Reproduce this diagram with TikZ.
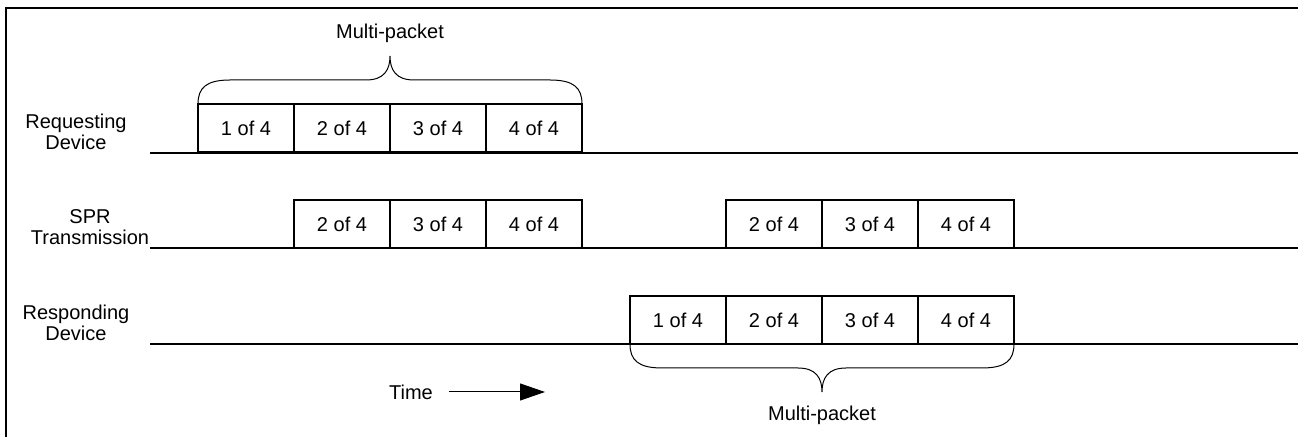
\documentclass[tikz,border=0pt]{standalone}
\usepackage{fontspec}
\setmainfont{Liberation Sans}
\usetikzlibrary{arrows.meta}

\begin{document}
\begin{tikzpicture}[x=0.5pt,y=-0.5pt]
            \tikzset{line/.style={line width=0.75pt}};
            \tikzset{frame/.style={line width=1pt}};
            \tikzset{brace/.style={line width=0.5pt}};
            \tikzset{pkt/.style={draw,line width=1pt,minimum width=48pt,minimum height=24pt,inner sep=0pt,font=\fontsize{10}{12}\selectfont}};
            \tikzset{lbl/.style={align=center,font=\fontsize{10}{10.5}\selectfont}};

            \useasboundingbox (0,0) rectangle (1298,437);
            \draw[frame] (6,437) -- (6,8) -- (1298,8);

            % requesting device
            \node[lbl] (req) at (76,132) {Requesting\\Device};
            \draw[line] (150,153) -- (1298,153);
            \node[pkt] (r1) at (246,128.5) {1 of 4};
            \node[pkt] (r2) at (342,128.5) {2 of 4};
            \node[pkt] (r3) at (438,128.5) {3 of 4};
            \node[pkt] (r4) at (534,128.5) {4 of 4};

            \node[lbl] (mptop) at (390,33) {Multi-packet};
            \draw[brace] (198,104) .. controls (198,88) and (206,80) .. (230,80) -- (366,80)
                .. controls (384,80) and (390,70) .. (390,56)
                .. controls (390,70) and (396,80) .. (414,80) -- (550,80)
                .. controls (574,80) and (582,88) .. (582,104);

            % spr transmission
            \node[lbl] (spr) at (90,227) {SPR\\Transmission};
            \draw[line] (150,248) -- (1298,248);
            \node[pkt] (s2) at (342,224) {2 of 4};
            \node[pkt] (s3) at (438,224) {3 of 4};
            \node[pkt] (s4) at (534,224) {4 of 4};
            \node[pkt] (t2) at (774,224) {2 of 4};
            \node[pkt] (t3) at (870,224) {3 of 4};
            \node[pkt] (t4) at (966,224) {4 of 4};

            % responding device
            \node[lbl] (resp) at (76,323) {Responding\\Device};
            \draw[line] (150,344) -- (1298,344);
            \node[pkt] (d1) at (678,320) {1 of 4};
            \node[pkt] (d2) at (774,320) {2 of 4};
            \node[pkt] (d3) at (870,320) {3 of 4};
            \node[pkt] (d4) at (966,320) {4 of 4};

            \draw[brace] (630,344) .. controls (630,360) and (638,368) .. (662,368) -- (798,368)
                .. controls (816,368) and (822,378) .. (822,392)
                .. controls (822,378) and (828,368) .. (846,368) -- (982,368)
                .. controls (1006,368) and (1014,360) .. (1014,344);
            \node[lbl] (mpbot) at (822,415) {Multi-packet};

            % time axis
            \node[lbl] (time) at (411,392) {Time};
            \coordinate (tend) at (545,392);
            \draw[line width=0.5pt,shorten <=4.5pt,-{Triangle[length=12.5pt,width=8.5pt]}] (time) -- (tend);
\end{tikzpicture}
\end{document}
